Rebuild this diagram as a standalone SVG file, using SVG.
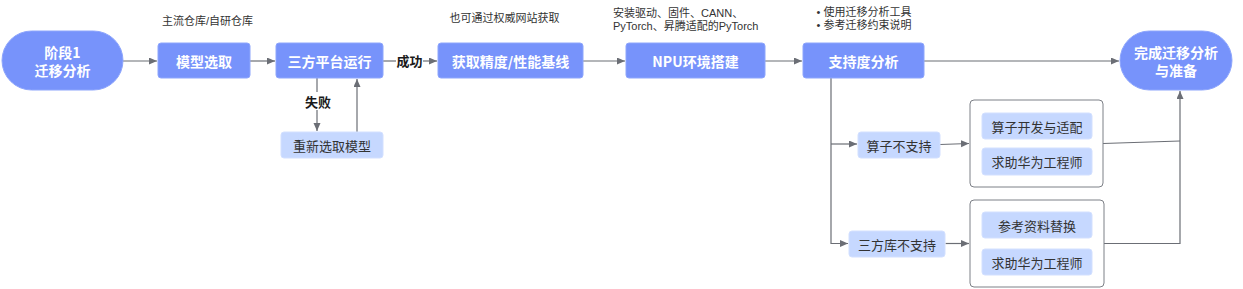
<svg xmlns="http://www.w3.org/2000/svg" width="1243" height="289" viewBox="0 0 1243 289">
<style>
text{font-family:"Noto Sans CJK SC","Noto Sans",sans-serif;dominant-baseline:central}
.main{fill:#7793fb;stroke:#8ea6fc;stroke-width:1}
.sub{fill:#c6d8ff;stroke:#d3e0ff;stroke-width:1}
.box{fill:#fff;stroke:#7d8087;stroke-width:1}
.mt{fill:#fff;font-size:14px;font-weight:bold;text-anchor:middle}
.st{fill:#333;font-size:13px;text-anchor:middle}
.an{fill:#333;font-size:11px;font-family:"Liberation Sans","Noto Sans CJK SC",sans-serif}
.lb{fill:#1a1a1a;font-size:13px;font-weight:bold;text-anchor:middle}
.ln{fill:none;stroke:#6b6e75;stroke-width:1.2}
</style>
<defs>
<marker id="ah" markerUnits="userSpaceOnUse" markerWidth="9" markerHeight="8" refX="8" refY="3.5" orient="auto">
<path d="M0,0 L8,3.5 L0,7 z" fill="#6b6e75"/>
</marker>
</defs>
<rect width="1243" height="289" fill="#fff"/>
<g id="connectors">
<path class="ln" d="M123,61 H157" marker-end="url(#ah)"/>
<path class="ln" d="M250,61 H275" marker-end="url(#ah)"/>
<path class="ln" d="M383,61 H396"/>
<path class="ln" d="M423,61 H437" marker-end="url(#ah)"/>
<path class="ln" d="M317,78 V92"/>
<path class="ln" d="M317,110 V131" marker-end="url(#ah)"/>
<path class="ln" d="M357,132 V79" marker-end="url(#ah)"/>
<path class="ln" d="M583,61 H625" marker-end="url(#ah)"/>
<path class="ln" d="M765,61 H802" marker-end="url(#ah)"/>
<path class="ln" d="M924,61 H1119" marker-end="url(#ah)"/>
<path class="ln" d="M831,78 V243.5 H848" marker-end="url(#ah)"/>
<path class="ln" d="M831,144 H857" marker-end="url(#ah)"/>
<path class="ln" d="M940,144.5 L969,143.5" marker-end="url(#ah)"/>
<path class="ln" d="M945.5,243.5 H969" marker-end="url(#ah)"/>
<path class="ln" d="M1103,143.5 L1180,141"/>
<path class="ln" d="M1104,243.5 H1180 V91" marker-end="url(#ah)"/>
<text class="lb" x="409.5" y="60.5">成功</text>
<text class="lb" x="318" y="101">失败</text>
</g>
<g id="start">
<rect class="main" x="2" y="31" width="121" height="59" rx="29.5"/>
<text class="mt" x="62.5" y="52">阶段1</text>
<text class="mt" x="62.5" y="70">迁移分析</text>
</g>
<g id="model-select">
<rect class="main" x="158" y="43" width="92" height="35" rx="3"/>
<text class="mt" x="204" y="60.5">模型选取</text>
<text class="an" x="207.5" y="21" text-anchor="middle">主流仓库/自研仓库</text>
</g>
<g id="third-party-run">
<rect class="main" x="276" y="43" width="107" height="35" rx="3"/>
<text class="mt" x="329.5" y="60.5">三方平台运行</text>
</g>
<g id="reselect">
<rect class="sub" x="281" y="132" width="102" height="26" rx="3"/>
<text class="st" x="332" y="145">重新选取模型</text>
</g>
<g id="baseline">
<rect class="main" x="438" y="43" width="145" height="35" rx="3"/>
<text class="mt" x="510.5" y="60.5">获取精度/性能基线</text>
<text class="an" x="504.5" y="18.3" text-anchor="middle">也可通过权威网站获取</text>
</g>
<g id="npu-env">
<rect class="main" x="626" y="43" width="139" height="35" rx="3"/>
<text class="mt" x="695.5" y="60.5">NPU环境搭建</text>
<text class="an" x="613" y="12.5">安装驱动、固件、CANN、</text>
<text class="an" x="613" y="26">PyTorch、昇腾适配的PyTorch</text>
</g>
<g id="support-analysis">
<rect class="main" x="803" y="43" width="121" height="35" rx="3"/>
<text class="mt" x="863.5" y="60.5">支持度分析</text>
<text class="an" x="816.5" y="11.5">• 使用迁移分析工具</text>
<text class="an" x="816.5" y="24.5">• 参考迁移约束说明</text>
</g>
<g id="end">
<rect class="main" x="1120" y="31" width="112" height="59" rx="29.5"/>
<text class="mt" x="1176" y="52">完成迁移分析</text>
<text class="mt" x="1176" y="70">与准备</text>
</g>
<g id="op-unsupported">
<rect class="sub" x="858" y="132" width="82" height="26" rx="3"/>
<text class="st" x="899" y="145">算子不支持</text>
</g>
<g id="op-box">
<rect class="box" x="970" y="100" width="133" height="87" rx="4"/>
<rect class="sub" x="982" y="113" width="110" height="26" rx="3"/>
<text class="st" x="1037" y="126">算子开发与适配</text>
<rect class="sub" x="982" y="148" width="110" height="27" rx="3"/>
<text class="st" x="1037" y="161.5">求助华为工程师</text>
</g>
<g id="lib-unsupported">
<rect class="sub" x="849" y="231" width="96" height="26" rx="3"/>
<text class="st" x="897" y="244">三方库不支持</text>
</g>
<g id="lib-box">
<rect class="box" x="970" y="200" width="134" height="87" rx="4"/>
<rect class="sub" x="982" y="212" width="110" height="26" rx="3"/>
<text class="st" x="1037" y="225">参考资料替换</text>
<rect class="sub" x="982" y="249" width="110" height="26" rx="3"/>
<text class="st" x="1037" y="262">求助华为工程师</text>
</g>
</svg>
